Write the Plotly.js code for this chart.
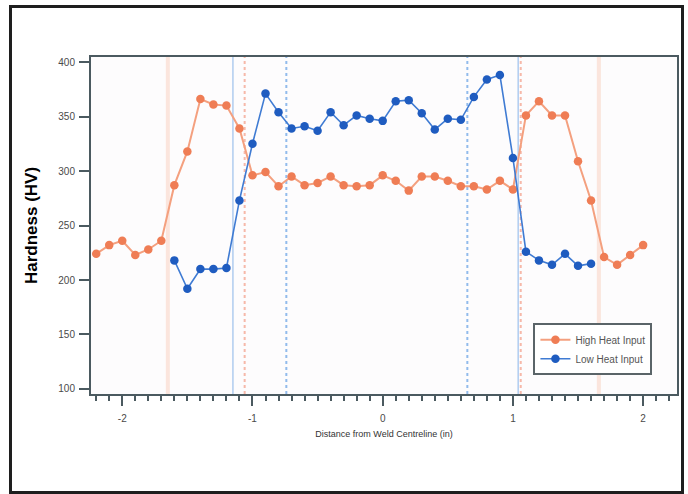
<!DOCTYPE html>
<html>
<head>
<meta charset="utf-8">
<script src="https://cdn.plot.ly/plotly-3.0.1.min.js"></script>
<style>
  html, body { margin: 0; padding: 0; background: #ffffff; }
  #wrap { position: relative; width: 688px; height: 494px; overflow: hidden; }
  #chart { position: absolute; left: 0; top: 0; width: 688px; height: 494px; }
  #frame { position: absolute; left: 9px; top: 5px; width: 675px; height: 489px;
           box-sizing: border-box; border: 3px solid #1e1e1e; pointer-events: none; }
</style>
</head>
<body>
<div id="wrap">
  <div id="chart"></div>
  <div id="frame"></div>
</div>
<script>
// Hardness traverse across the weld (distance in inches, hardness in HV)
const highHeatX = [-2.2, -2.1, -2.0, -1.9, -1.8, -1.7, -1.6, -1.5, -1.4, -1.3, -1.2, -1.1,
                   -1.0, -0.9, -0.8, -0.7, -0.6, -0.5, -0.4, -0.3, -0.2, -0.1, 0.0,
                   0.1, 0.2, 0.3, 0.4, 0.5, 0.6, 0.7, 0.8, 0.9, 1.0, 1.1, 1.2, 1.3,
                   1.4, 1.5, 1.6, 1.7, 1.8, 1.9, 2.0];
const highHeatHV = [224, 232, 236, 223, 228, 236, 287, 318, 366, 361, 360, 339,
                    296, 299, 286, 295, 287, 289, 295, 287, 286, 287, 296,
                    291, 282, 295, 295, 291, 286, 286, 283, 291, 283, 351, 364, 351,
                    351, 309, 273, 221, 214, 223, 232];

const lowHeatX = [-1.6, -1.5, -1.4, -1.3, -1.2, -1.1, -1.0, -0.9, -0.8, -0.7, -0.6, -0.5,
                  -0.4, -0.3, -0.2, -0.1, 0.0, 0.1, 0.2, 0.3, 0.4, 0.5, 0.6, 0.7,
                  0.8, 0.9, 1.0, 1.1, 1.2, 1.3, 1.4, 1.5, 1.6];
const lowHeatHV = [218, 192, 210, 210, 211, 273, 325, 371, 354, 339, 341, 337,
                   354, 342, 351, 348, 346, 364, 365, 353, 338, 348, 347, 368,
                   384, 388, 312, 226, 218, 214, 224, 213, 215];

// Zone boundaries marked on the traverse (inches)
const highHeatOuterLimits = [-1.65, 1.66];
const highHeatInnerLimits = [-1.06, 1.06];
const lowHeatFusionLines = [-1.15, 1.04];
const lowHeatHazLimits = [-0.74, 0.65];

// Axis ticks
const xTickVals = [-2, -1, 0, 1, 2];
const xTickText = ['-2', '-1', '0', '1', '2'];
const yTickVals = [100, 150, 200, 250, 300, 350, 400];
const yTickText = ['100', '150', '200', '250', '300', '350', '400'];

const orange = '#ef7d55';
const orangeLine = '#f4a07f';
const blue = '#1f5cc0';
const blueLine = '#3f7bd3';
const axisColor = '#4b5a60';

function vline(x, color, width, dash) {
  return {
    type: 'line', xref: 'x', yref: 'paper', x0: x, x1: x, y0: 0, y1: 1,
    line: { color: color, width: width, dash: dash }, layer: 'below'
  };
}

const shapes = []
  .concat(highHeatOuterLimits.map(x => vline(x, 'rgba(246,185,160,0.35)', 4, 'solid')))
  .concat(highHeatInnerLimits.map(x => vline(x, 'rgba(240,130,100,0.55)', 2, 'dot')))
  .concat(lowHeatFusionLines.map(x => vline(x, 'rgba(90,150,225,0.7)', 1, 'solid')))
  .concat(lowHeatHazLimits.map(x => vline(x, 'rgba(110,165,230,0.75)', 2, 'dot')));

const traces = [
  {
    x: highHeatX, y: highHeatHV, name: 'High Heat Input', type: 'scatter',
    mode: 'lines+markers',
    line: { color: orangeLine, width: 2 },
    marker: { color: orange, size: 8.5, symbol: 'circle' }
  },
  {
    x: lowHeatX, y: lowHeatHV, name: 'Low Heat Input', type: 'scatter',
    mode: 'lines+markers',
    line: { color: blueLine, width: 1.6 },
    marker: { color: blue, size: 8.5, symbol: 'circle' }
  }
];

const layout = {
  width: 688, height: 494,
  margin: { l: 91, r: 11, t: 57, b: 100 },
  paper_bgcolor: 'rgba(0,0,0,0)',
  plot_bgcolor: '#fdfcfd',
  font: { family: '"Liberation Sans", Arial, sans-serif', color: '#4a4a4a' },
  showlegend: true,
  legend: {
    x: 0.755, y: 0.21, xanchor: 'left', yanchor: 'top',
    bgcolor: '#ffffff', bordercolor: '#5a6468', borderwidth: 2,
    font: { size: 10, color: '#555555' },
    tracegroupgap: 0, itemwidth: 30
  },
  xaxis: {
    range: [-2.24, 2.26],
    tickmode: 'array', tickvals: xTickVals, ticktext: xTickText,
    ticks: 'outside', ticklen: 10, tickwidth: 2, tickcolor: axisColor,
    ticklabelstandoff: 4,
    minor: { dtick: 0.1, tick0: 0, ticks: 'outside', ticklen: 5, tickwidth: 2, tickcolor: axisColor, showgrid: false },
    showline: true, linewidth: 2, linecolor: axisColor, mirror: true,
    showgrid: false, zeroline: false,
    tickfont: { size: 10, color: '#4a4a4a' },
    title: { text: 'Distance from Weld Centreline (in)', font: { size: 9, color: '#333333' }, standoff: 8 }
  },
  yaxis: {
    range: [95.4, 404.6],
    tickmode: 'array', tickvals: yTickVals, ticktext: yTickText,
    ticks: 'outside', ticklen: 10, tickwidth: 2, tickcolor: axisColor,
    ticklabelstandoff: 2,
    showline: true, linewidth: 2, linecolor: axisColor, mirror: true,
    showgrid: false, zeroline: false,
    tickfont: { size: 10, color: '#4a4a4a' },
    title: { text: 'Hardness (HV)', font: { size: 17, color: '#000000', weight: 'bold' }, standoff: 16 }
  },
  shapes: shapes
};

Plotly.newPlot('chart', traces, layout, { displayModeBar: false, staticPlot: true });
</script>
</body>
</html>
